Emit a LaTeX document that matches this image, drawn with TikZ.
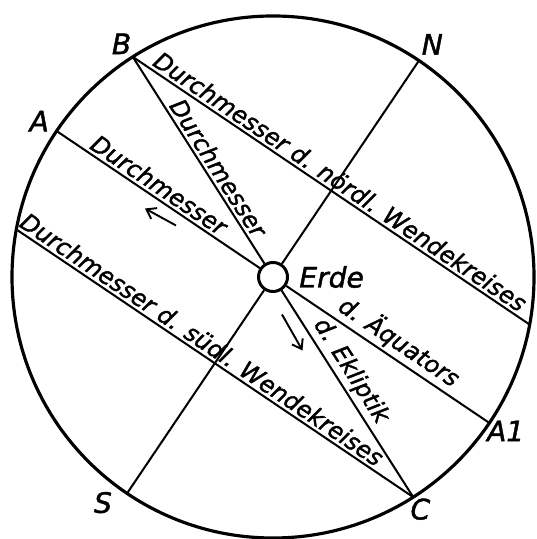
\documentclass[tikz,border=0pt]{standalone}
\usepackage{fontspec}
\setmainfont{DejaVu Sans}
\newfontfamily\hand{DejaVu Sans}[FakeBold=1.6]
\usetikzlibrary{arrows.meta,positioning}

\begin{document}
\begin{tikzpicture}[
      ring/.style={line width=1.8pt},
      dia/.style={line width=1.15pt},
      txt/.style={sloped, above, inner sep=1.5pt,
                  font=\hand\itshape\fontsize{13.5}{16}\selectfont},
      lbl/.style={inner sep=0pt, font=\hand\itshape\fontsize{16}{18}\selectfont},
      globe/.style={draw, circle, fill=white, line width=1.7pt,
                    minimum size=0.58cm, inner sep=0pt},
      dirarr/.style={-{Straight Barb[length=5pt,width=7pt]}, line width=1.1pt}
  ]
    \useasboundingbox (-5.46,-5.24) rectangle (5.26,5.54);
    \draw[ring] (0,0) circle (5.22);
    % points on the circle
    \coordinate (N) at (56:5.22);    \coordinate (S) at (236:5.22);
    \coordinate (A) at (146:5.22);   \coordinate (A1) at (326:5.22);
    \coordinate (B) at (122.5:5.22); \coordinate (C) at (302.5:5.22);
    \coordinate (nw) at (-10.5:5.22); \coordinate (sw) at (169.5:5.22);
    \node[globe] (erde) at (0,0) {};
    \node[lbl, right=0.2cm of erde] (erdelbl) {Erde};
    % Wendekreise
    \draw[dia] (B) -- node[txt, pos=0.505] {Durchmesser d. nördl. Wendekreises} (nw);
    \draw[dia] (sw) -- node[txt, pos=0.45] {Durchmesser d. südl. Wendekreises} (C);
    % Aequator
    \draw[dia] (A) -- node[txt, pos=0.47] {Durchmesser} (erde);
    \draw[dia] (erde) -- node[txt, pos=0.51] {d. Äquators} (A1);
    % Ekliptik
    \draw[dia] (B) -- node[txt, pos=0.57] {Durchmesser} (erde);
    \draw[dia] (erde) -- node[txt, pos=0.43] {d. Ekliptik} (C);
    % Achse
    \draw[dia] (N) -- (erde) -- (S);
    \draw[dirarr] (-1.94,1.03) -- (-2.56,1.37);
    \draw[dirarr] (0.18,-0.75) -- (0.59,-1.47);
    % labels
    \node[lbl] (lB) at (123:5.56) {B};
    \node[lbl] (lN) at (55.6:5.64) {N};
    \node[lbl] (lA) at (146.3:5.62) {A};
    \node[lbl] (lA1) at (-33.5:5.58) {A1};
    \node[lbl] (lS) at (233:5.65) {S};
    \node[lbl] (lC) at (-57.6:5.5) {C};
  \end{tikzpicture}
\end{document}
